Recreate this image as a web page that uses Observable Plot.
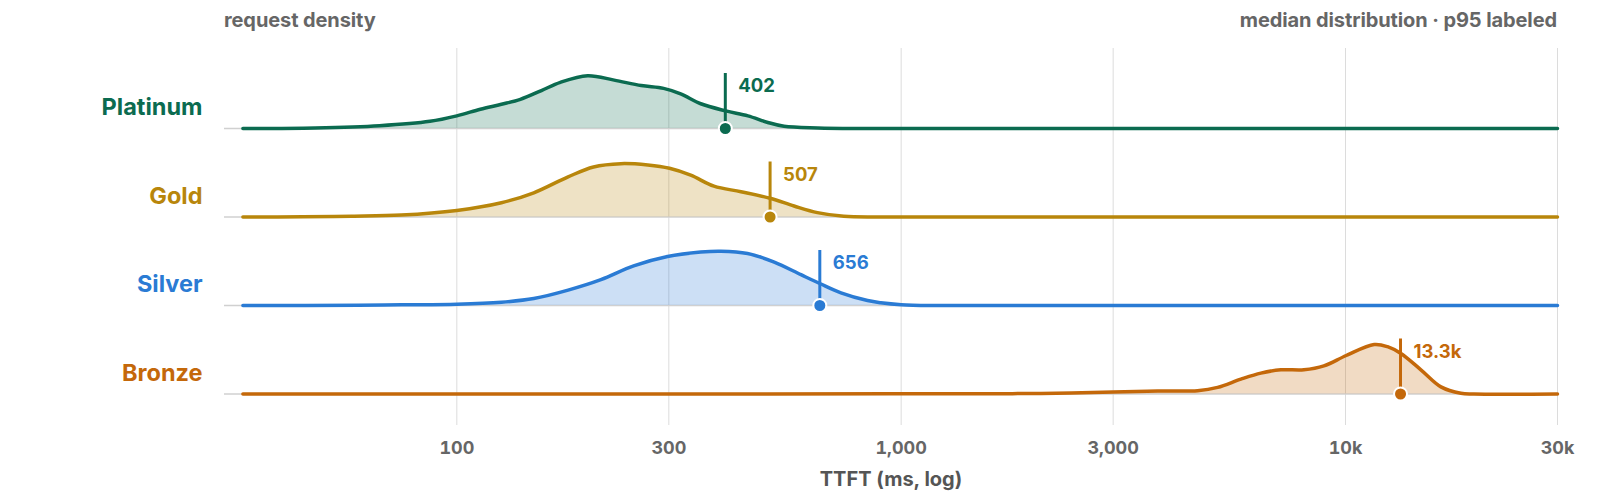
<!DOCTYPE html>
<html>
<head>
<meta charset="utf-8">
<script src="https://cdn.jsdelivr.net/npm/d3@7"></script>
<script src="https://cdn.jsdelivr.net/npm/@observablehq/plot@0.6"></script>
<style>
  html, body { margin: 0; padding: 0; background: #fff; }
  body { width: 1600px; height: 501px; overflow: hidden; font-family: Inter, "Noto Sans", sans-serif; }
  #head { position: relative; height: 40px; width: 1600px; }
  #head span { position: absolute; top: 50%; transform: translateY(-50%); font-size: 20px; font-weight: 700; color: #666; letter-spacing: -0.1px; }
  #left { left: 224px; }
  #right { right: 43px; }
</style>
</head>
<body>
<div id="head"><span id="left">request density</span><span id="right">median distribution · p95 labeled</span></div>
<div id="chart"></div>
<script>
// ---- data ----
const tiers = ["Platinum", "Gold", "Silver", "Bronze"];
const tierColors = ["#0b6b50", "#b8860b", "#2a7bd4", "#c4680a"];
const p95Values = [402, 507, 656, 13300];
const p95Labels = ["402", "507", "656", "13.3k"];
const xTicks = [100, 300, 1000, 3000, 10000, 30000];
const xTickLabels = ["100", "300", "1,000", "3,000", "10k", "30k"];

const platinumMs = [33, 48, 67, 87, 100, 113, 126, 139, 155, 171, 197, 226, 260, 292, 319, 354, 403, 452, 501, 545, 649, 800, 1000, 3000, 10000, 30000];
const platinumDensity = [0, 0.01, 0.05, 0.13, 0.23, 0.35, 0.44, 0.53, 0.69, 0.84, 0.96, 0.88, 0.78, 0.73, 0.63, 0.45, 0.32, 0.23, 0.11, 0.04, 0.01, 0, 0, 0, 0, 0];

const goldMs = [33, 45, 58, 75, 100, 126, 149, 178, 203, 234, 269, 301, 336, 379, 436, 507, 574, 648, 743, 900, 3000, 30000];
const goldDensity = [0, 0.004, 0.015, 0.036, 0.12, 0.26, 0.44, 0.73, 0.91, 0.97, 0.945, 0.885, 0.76, 0.56, 0.46, 0.34, 0.2, 0.08, 0.013, 0, 0, 0];

const silverMs = [33, 60, 75, 100, 126, 149, 178, 211, 250, 298, 354, 393, 451, 518, 595, 656, 732, 840, 900, 1000, 1170, 3000, 30000];
const silverDensity = [0, 0.003, 0.013, 0.024, 0.06, 0.127, 0.28, 0.47, 0.72, 0.89, 0.972, 0.987, 0.945, 0.79, 0.56, 0.40, 0.23, 0.09, 0.05, 0.015, 0, 0, 0];

const bronzeMs = [33, 500, 1000, 1500, 2063, 3000, 3777, 4645, 5155, 5816, 6450, 7154, 8061, 8941, 10037, 11603, 12434, 13300, 14780, 16395, 18180, 19450, 30000];
const bronzeDensity = [0, 0, 0.003, 0.006, 0.01, 0.036, 0.055, 0.06, 0.12, 0.27, 0.38, 0.44, 0.44, 0.51, 0.70, 0.90, 0.86, 0.74, 0.44, 0.13, 0.013, 0, 0];

const seriesMs = [platinumMs, goldMs, silverMs, bronzeMs];
const seriesDensity = [platinumDensity, goldDensity, silverDensity, bronzeDensity];

// ---- layout constants ----
const tierStep = 88.5 / 55;   // baseline spacing in density units
const offsetOf = i => (tiers.length - 1 - i) * tierStep;

const rows = [];
tiers.forEach((t, i) => {
  seriesMs[i].forEach((ms, j) => rows.push({tier: t, ms, density: seriesDensity[i][j], offset: offsetOf(i), color: tierColors[i]}));
});
const tierRows = tiers.map((t, i) => ({tier: t, offset: offsetOf(i), color: tierColors[i], p95: p95Values[i], label: p95Labels[i]}));

const bold = 700;
const curve = "catmull-rom";
const chart = Plot.plot({
  width: 1600,
  height: 461,
  marginLeft: 224,
  marginRight: 43,
  marginTop: 8,
  marginBottom: 76,
  style: {fontFamily: "Inter, 'Noto Sans', sans-serif", background: "#fff", overflow: "visible"},
  x: {type: "log", domain: [30, 30000]},
  y: {axis: null, domain: [0, 3 * tierStep], range: [353.5, 88]},
  color: {type: "identity"},
  marks: [
    Plot.gridX(xTicks, {stroke: "#dcdcdc", strokeOpacity: 1, strokeWidth: 1}),
    Plot.axisX(xTicks, {tickSize: 0, tickPadding: 16, tickFormat: d => xTickLabels[xTicks.indexOf(d)], fontSize: 18, fontWeight: bold, color: "#666", label: null}),
    Plot.ruleY(tierRows, {y: "offset", x1: 30, x2: 30000, stroke: "#d0d0d0", strokeWidth: 1.5}),
    Plot.areaY(rows, {x: "ms", y1: "offset", y2: d => d.offset + Math.max(0, d.density), z: "tier", fill: "color", fillOpacity: 0.24, curve}),
    Plot.lineY(rows, {x: "ms", y: d => d.offset + d.density, z: "tier", stroke: "color", strokeWidth: 3.5, curve}),
    Plot.text(tierRows, {y: "offset", frameAnchor: "left", text: "tier", dx: -22, dy: -21, textAnchor: "end", fill: "color", fontSize: 23.5, fontWeight: bold}),
    Plot.ruleX(tierRows, {x: "p95", y1: "offset", y2: d => d.offset + 1.0, stroke: "color", strokeWidth: 3}),
    Plot.dot(tierRows, {x: "p95", y: "offset", r: 6.5, fill: "color", stroke: "white", strokeWidth: 2}),
    Plot.text(tierRows, {x: "p95", y: "offset", text: "label", dx: 13, dy: -42, textAnchor: "start", fill: "color", fontSize: 18.5, fontWeight: bold}),
    Plot.text(["TTFT (ms, log)"], {frameAnchor: "bottom", dy: 60, fontSize: 20, fontWeight: bold, fill: "#555"})
  ]
});
document.getElementById("chart").appendChild(chart);
</script>
</body>
</html>
